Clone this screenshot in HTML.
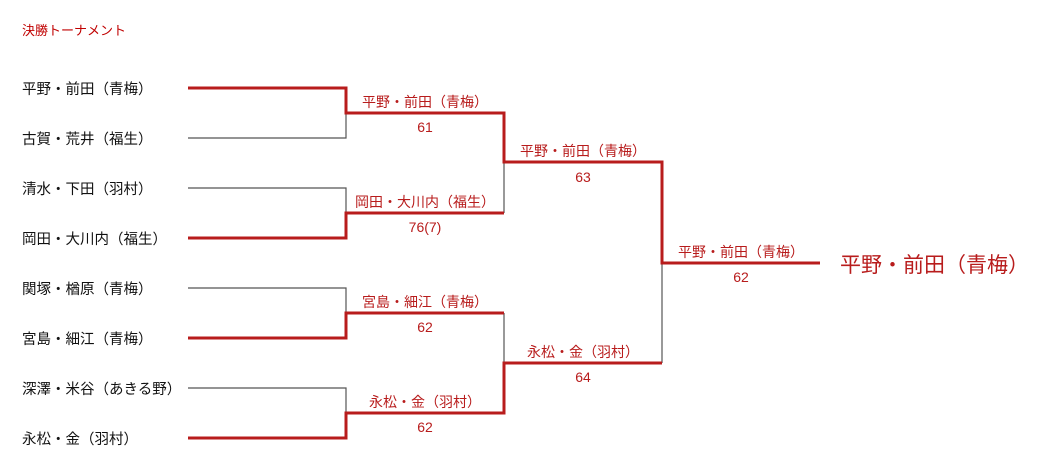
<!DOCTYPE html>
<html><head><meta charset="utf-8"><style>
html,body{margin:0;padding:0;background:#fff;}
svg{display:block;font-family:"Liberation Sans","Noto Sans CJK JP",sans-serif;}
</style></head><body>
<svg width="1053" height="473" viewBox="0 0 1053 473">
<text x="22" y="35" font-size="13" fill="#c00000">決勝トーナメント</text>
<g font-size="14.5" fill="#111">
<text x="22" y="94">平野・前田（青梅）</text>
<text x="22" y="144">古賀・荒井（福生）</text>
<text x="22" y="194">清水・下田（羽村）</text>
<text x="22" y="244">岡田・大川内（福生）</text>
<text x="22" y="294">関塚・楢原（青梅）</text>
<text x="22" y="344">宮島・細江（青梅）</text>
<text x="22" y="394">深澤・米谷（あきる野）</text>
<text x="22" y="444">永松・金（羽村）</text>
</g>
<g stroke="#555" stroke-width="1.2" fill="none">
<path d="M188 138H346V113"/>
<path d="M188 188H346V213"/>
<path d="M188 288H346V313"/>
<path d="M188 388H346V413"/>
<path d="M504 213V162"/>
<path d="M504 313V363"/>
<path d="M662 363V263"/>
</g>
<g stroke="#b81c1c" stroke-width="3" fill="none">
<path d="M188 88H346V113H504V162H662V263H820"/>
<path d="M188 238H346V213H504"/>
<path d="M188 338H346V313H504"/>
<path d="M188 438H346V413H504V363H662"/>
</g>
<g font-size="14" fill="#b81c1c" text-anchor="middle">
<text x="425" y="107">平野・前田（青梅）</text>
<text x="425" y="132">61</text>
<text x="425" y="207">岡田・大川内（福生）</text>
<text x="425" y="232">76(7)</text>
<text x="425" y="307">宮島・細江（青梅）</text>
<text x="425" y="332">62</text>
<text x="425" y="407">永松・金（羽村）</text>
<text x="425" y="432">62</text>
<text x="583" y="156">平野・前田（青梅）</text>
<text x="583" y="182">63</text>
<text x="583" y="357">永松・金（羽村）</text>
<text x="583" y="382">64</text>
<text x="741" y="257">平野・前田（青梅）</text>
<text x="741" y="282">62</text>
</g>
<text x="840" y="272" font-size="21" fill="#b81c1c">平野・前田（青梅）</text>
</svg>
</body></html>
